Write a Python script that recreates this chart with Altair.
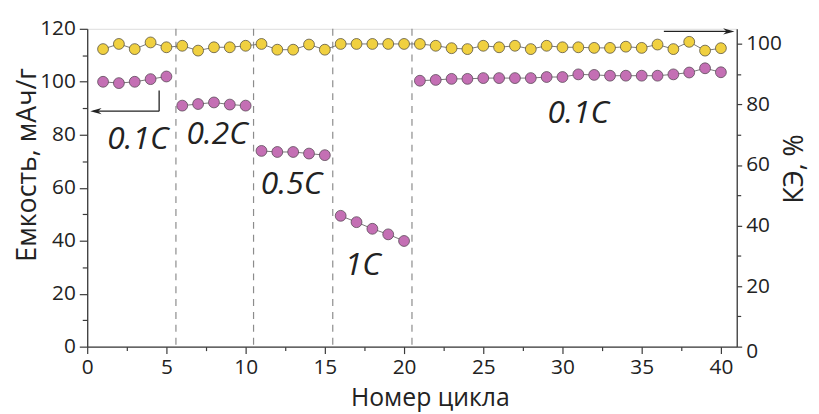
import altair as alt
import pandas as pd

# ---------------- data ----------------
cycles = [1, 2, 3, 4, 5, 6, 7, 8, 9, 10,
          11, 12, 13, 14, 15, 16, 17, 18, 19, 20,
          21, 22, 23, 24, 25, 26, 27, 28, 29, 30,
          31, 32, 33, 34, 35, 36, 37, 38, 39, 40]
capacity = [100.0, 99.5, 100.0, 101.0, 102.0,
            91.0, 91.6, 92.2, 91.4, 91.0,
            73.9, 73.5, 73.5, 72.9, 72.3,
            49.4, 47.0, 44.5, 42.4, 39.9,
            100.4, 100.7, 101.1, 101.1, 101.4, 101.4, 101.4, 101.4, 101.8, 101.8,
            102.8, 102.6, 102.3, 102.3, 102.3, 102.3, 102.8, 103.5, 105.1, 103.6]
ce = [98.3, 100.0, 98.3, 100.5, 98.9,
      99.4, 97.8, 98.9, 98.9, 99.4,
      100.0, 98.1, 98.1, 99.8, 98.1,
      100.0, 100.0, 100.0, 100.0, 100.0,
      100.0, 99.4, 98.6, 98.3, 99.4, 98.9, 99.4, 98.3, 99.4, 98.9,
      98.9, 98.7, 98.7, 99.1, 98.7, 99.8, 98.3, 100.7, 97.8, 98.6]
segment = (["a"] * 5 + ["b"] * 5 + ["c"] * 5 + ["d"] * 5 + ["e"] * 20)

boundaries = [5.6, 10.5, 15.5, 20.5]

label_text = ["0.1C", "0.2C", "0.5C", "1C", "0.1C"]
label_x = [3.2, 8.2, 12.9, 17.4, 31.0]
label_y = [78.4, 80.3, 61.2, 30.9, 88.1]

# arrow segments (capacity-axis coordinates)
arr_x = [4.54, 4.54, 36.4]
arr_x2 = [4.54, 0.4, 40.5]
arr_y = [96.7, 88.9, 119.0]
arr_y2 = [88.9, 88.9, 119.0]
head_x = [0.55, 40.5]
head_y = [88.9, 119.0]
head_angle = [180, 0]

x_ticks = [0, 2.5, 5, 7.5, 10, 12.5, 15, 17.5, 20, 22.5, 25, 27.5, 30, 32.5, 35, 37.5, 40]
yl_ticks = [0, 10, 20, 30, 40, 50, 60, 70, 80, 90, 100, 110, 120]
yr_ticks = [0, 10, 20, 30, 40, 50, 60, 70, 80, 90, 100]

df = pd.DataFrame({"cycle": cycles, "cap": capacity, "ce": ce, "seg": segment})
df_b = pd.DataFrame({"b": boundaries})
df_lab = pd.DataFrame({"t": label_text, "x": label_x, "y": label_y})
df_arr = pd.DataFrame({"x": arr_x, "x2": arr_x2, "y": arr_y, "y2": arr_y2})
df_head = pd.DataFrame({"x": head_x, "y": head_y, "a": head_angle})

# ---------------- scales / axes ----------------
FONT = "Open Sans"
AX = "#3a3a3a"
xs = alt.Scale(domain=[0, 41], nice=False, zero=False)
yls = alt.Scale(domain=[0, 120], nice=False)
yrs = alt.Scale(domain=[0, 105], nice=False)

x_axis = alt.Axis(
    values=x_ticks,
    labelExpr="datum.value % 5 === 0 ? datum.label : ''",
    tickSize={"condition": {"test": "datum.value % 5 === 0", "value": 7}, "value": 4},
    labelFlush=False, labelOverlap=False, grid=False,
    labelFontSize=21, labelColor="#222", labelPadding=3,
    domainColor=AX, tickColor=AX, domainWidth=1.3, tickWidth=1.2,
    title="Номер цикла", titleFontSize=25, titleFontWeight="normal", titleColor="#222",
    titleX=346, titleY=59, titleBaseline="alphabetic", titleAlign="center",
)
yl_axis = alt.Axis(
    orient="left",
    values=yl_ticks,
    labelExpr="datum.value % 20 === 0 ? datum.label : ''",
    tickSize={"condition": {"test": "datum.value % 20 === 0", "value": 8}, "value": 5},
    labelFlush=False, labelOverlap=False, grid=False,
    labelFontSize=21, labelColor="#222", labelPadding=4,
    domainColor=AX, tickColor=AX, domainWidth=1.3, tickWidth=1.2,
    title="Емкость, мАч/г", titleFontSize=27, titleFontWeight="normal", titleColor="#222",
    titleAngle=270, titleX=-60, titleY=137, titleBaseline="middle", titleAlign="center",
)
yr_axis = alt.Axis(
    orient="right",
    values=yr_ticks,
    labelExpr="datum.value % 20 === 0 ? datum.label : ''",
    tickSize={"condition": {"test": "datum.value % 20 === 0", "value": 5}, "value": 4},
    labelOffset={"condition": {"test": "datum.value === 0", "value": 5}, "value": 0},
    labelFlush=False, labelOverlap=False, grid=False,
    labelFontSize=21, labelColor="#222", labelPadding=4,
    domainColor=AX, tickColor=AX, domainWidth=1.3, tickWidth=1.2,
    title="КЭ, %", titleFontSize=27, titleFontWeight="normal", titleColor="#222",
    titleAngle=270, titleX=58, titleY=141, titleBaseline="middle", titleAlign="center",
)

X = lambda f: alt.X(f, scale=xs, axis=x_axis)

# ---------------- layers ----------------
rules = alt.Chart(df_b).mark_rule(strokeDash=[7, 6], color="#8c8c8c", strokeWidth=1.2).encode(
    x=X("b:Q")
)

cap_line = alt.Chart(df).mark_line(color="#777", strokeWidth=1).encode(
    x=X("cycle:Q"),
    y=alt.Y("cap:Q", scale=yls, axis=None),
    detail="seg:N",
)
cap_pts = alt.Chart(df).mark_point(
    filled=True, size=120, fill="#c46fb4", stroke="#5a4a58", strokeWidth=0.8, opacity=1
).encode(
    x=X("cycle:Q"),
    y=alt.Y("cap:Q", scale=yls, axis=yl_axis),
)

ce_line = alt.Chart(df).mark_line(color="#777", strokeWidth=1).encode(
    x=X("cycle:Q"),
    y=alt.Y("ce:Q", scale=yrs, axis=None),
)
ce_pts = alt.Chart(df).mark_point(
    filled=True, size=120, fill="#f0d040", stroke="#5a5440", strokeWidth=0.8, opacity=1
).encode(
    x=X("cycle:Q"),
    y=alt.Y("ce:Q", scale=yrs, axis=yr_axis),
)

labels = alt.Chart(df_lab).mark_text(
    font=FONT, fontStyle="italic", fontSize=32, color="#222", align="center", baseline="middle"
).encode(
    x=X("x:Q"),
    y=alt.Y("y:Q", scale=yls, axis=None),
    text="t:N",
)

arrows = alt.Chart(df_arr).mark_rule(color="#222", strokeWidth=1.3).encode(
    x=X("x:Q"),
    x2="x2:Q",
    y=alt.Y("y:Q", scale=yls, axis=None),
    y2="y2:Q",
)
heads = alt.Chart(df_head).mark_point(
    shape="M1,0 L-1,-0.55 L-0.4,0 L-1,0.55 Z", filled=True, size=130, color="#222", opacity=1
).encode(
    x=X("x:Q"),
    y=alt.Y("y:Q", scale=yls, axis=None),
    angle=alt.Angle("a:Q", scale=None),
)

chart = alt.layer(
    rules, cap_line, ce_line, cap_pts, ce_pts, labels, arrows, heads
).resolve_scale(y="independent").properties(
    width=656, height=321,
    autosize=alt.AutoSizeParams(type="none"),
    padding={"left": 80, "top": 19, "right": 75, "bottom": 66},
).configure_view(stroke=None).configure(font=FONT)

chart.save("out.html", embed_options={"renderer": "svg", "actions": False})
